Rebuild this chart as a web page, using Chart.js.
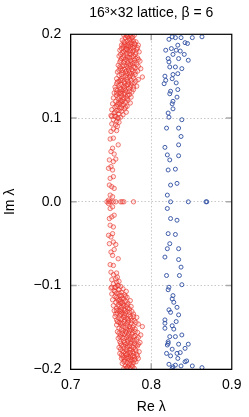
<!DOCTYPE html>
<html>
<head>
<meta charset="utf-8">
<script src="https://cdn.jsdelivr.net/npm/chart.js@4/dist/chart.umd.min.js"></script>
<style>
html,body{margin:0;padding:0;background:#fff;}
canvas{display:block;}
</style>
</head>
<body>
<canvas id="c" width="249" height="417"></canvas>
<script>
const titleText = "16\u00B3\u00D732 lattice, \u03B2 = 6";
const xTitle = "Re \u03BB";
const yTitle = "Im \u03BB";
const xTicks = [0.7, 0.8, 0.9];
const yTicks = [-0.2, -0.1, 0, 0.1, 0.2];

// red eigenvalues [Re, Im], upper half
const redUpper = [
[.766,.199],[.770,.198],[.774,.199],[.777,.197],[.779,.199],[.768,.196],[.772,.195],[.775,.194],[.764,.193],
[.770,.192],[.778,.192],[.781,.191],[.767,.190],[.773,.189],[.776,.188],[.784,.187],[.763,.187],[.769,.186],
[.772,.185],[.779,.185],[.765,.184],[.775,.183],[.782,.182],[.761,.181],[.768,.181],[.771,.180],[.777,.179],
[.785,.179],[.764,.178],[.773,.177],[.780,.176],[.766,.175],[.760,.174],[.770,.174],[.776,.173],[.783,.172],
[.763,.171],[.768,.170],[.774,.169],[.779,.169],[.786,.168],[.761,.167],[.766,.166],[.771,.166],[.777,.165],
[.782,.164],[.759,.163],[.764,.162],[.769,.162],[.774,.161],[.780,.160],[.787,.159],[.762,.159],[.767,.158],
[.772,.157],[.777,.156],[.783,.156],[.758,.155],[.765,.154],[.770,.153],[.775,.153],[.780,.152],[.760,.151],
[.768,.150],[.773,.149],[.789,.149],[.778,.148],[.757,.147],[.763,.147],[.770,.146],[.784,.146],[.775,.145],
[.760,.144],[.766,.143],[.772,.142],[.779,.142],[.757,.141],[.763,.140],[.769,.139],[.775,.139],[.782,.138],
[.755,.137],[.761,.136],[.767,.136],[.772,.135],[.778,.134],[.758,.133],[.764,.132],[.770,.131],[.776,.131],
[.754,.130],[.760,.129],[.766,.128],[.773,.128],[.757,.127],[.763,.126],[.769,.125],[.775,.125],[.753,.124],
[.759,.123],[.765,.122],[.771,.121],[.756,.120],[.762,.119],[.768,.119],[.774,.118],[.752,.117],[.758,.116],
[.764,.115],[.770,.114],[.755,.113],[.761,.112],[.767,.111],[.751,.110],[.757,.109],[.763,.108],[.769,.107],
[.754,.106],[.760,.105],[.765,.104],[.750,.103],[.756,.102],[.762,.101],[.758,.100],
[.771,.197],[.775,.190],[.767,.188],[.780,.188],[.774,.186],[.769,.183],[.778,.181],[.766,.179],[.775,.176],
[.771,.172],[.767,.168],[.781,.171],[.776,.167],[.772,.163],[.764,.157],[.778,.161],[.768,.155],[.774,.151],
[.765,.149],[.771,.144],[.762,.145],[.767,.141],[.774,.137],[.765,.134],[.761,.131],[.768,.133],[.763,.129],
[.771,.127],[.760,.125],[.766,.124],[.762,.121],[.759,.118],[.766,.116],[.757,.114],[.763,.112],[.760,.109],
[.755,.107],
[.769,.199],[.776,.196],[.773,.193],[.766,.191],[.779,.189],[.771,.187],[.765,.186],[.777,.184],[.783,.184],
[.770,.182],[.763,.183],[.774,.180],[.781,.178],[.769,.177],[.762,.176],[.778,.174],[.773,.172],[.765,.172],
[.784,.170],[.770,.169],[.762,.169],[.779,.166],[.774,.164],[.766,.163],[.761,.161],[.771,.160],[.784,.162],
[.776,.158],[.769,.156],[.760,.157],[.780,.155],[.773,.154],[.763,.152],[.777,.150],[.770,.148],[.781,.144],
[.758,.143],[.764,.145],[.776,.142],[.771,.140],[.760,.139],[.766,.138],[.778,.137],[.756,.134],[.762,.134],
[.773,.132],[.767,.130],[.757,.130],[.770,.123],[.764,.120],[.761,.117],[.768,.113],
[.751,.102],[.755,.102],[.759,.100],[.753,.098],[.757,.096],[.760,.095],[.751,.093],[.756,.092],[.758,.090],
[.753,.087],[.757,.085],[.750,.084],[.749,.075],[.753,.076],[.759,.068],[.752,.064],[.750,.060],[.754,.057],
[.748,.050],[.753,.048],[.756,.051],[.750,.042],[.747,.040],[.752,.038],[.749,.028],[.753,.030],[.748,.020],
[.751,.018],[.754,.016],[.749,.008],[.752,.006],[.747,.002]
];
// red real eigenvalues
const redReal = [[.745,0],[.748,0],[.750,0],[.753,0],[.756,0],[.762,0],[.764,0],[.766,0],[.778,0]];
// red eigenvalues, lower half
const redLower = [
[.766,-.199],[.770,-.198],[.774,-.199],[.777,-.197],[.779,-.199],[.768,-.196],[.772,-.195],[.775,-.194],[.764,-.193],
[.770,-.192],[.778,-.192],[.781,-.191],[.767,-.190],[.773,-.189],[.776,-.188],[.784,-.187],[.763,-.187],[.769,-.186],
[.772,-.185],[.779,-.185],[.765,-.184],[.775,-.183],[.782,-.182],[.761,-.181],[.768,-.181],[.771,-.180],[.777,-.179],
[.785,-.179],[.764,-.178],[.773,-.177],[.780,-.176],[.766,-.175],[.760,-.174],[.770,-.174],[.776,-.173],[.783,-.172],
[.763,-.171],[.768,-.170],[.774,-.169],[.779,-.169],[.786,-.168],[.761,-.167],[.766,-.166],[.771,-.166],[.777,-.165],
[.782,-.164],[.759,-.163],[.764,-.162],[.769,-.162],[.774,-.161],[.780,-.160],[.787,-.159],[.762,-.159],[.767,-.158],
[.772,-.157],[.777,-.156],[.783,-.156],[.758,-.155],[.765,-.154],[.770,-.153],[.775,-.153],[.780,-.152],[.760,-.151],
[.768,-.150],[.773,-.149],[.789,-.149],[.778,-.148],[.757,-.147],[.763,-.147],[.770,-.146],[.784,-.146],[.775,-.145],
[.760,-.144],[.766,-.143],[.772,-.142],[.779,-.142],[.757,-.141],[.763,-.140],[.769,-.139],[.775,-.139],[.782,-.138],
[.755,-.137],[.761,-.136],[.767,-.136],[.772,-.135],[.778,-.134],[.758,-.133],[.764,-.132],[.770,-.131],[.776,-.131],
[.754,-.130],[.760,-.129],[.766,-.128],[.773,-.128],[.757,-.127],[.763,-.126],[.769,-.125],[.775,-.125],[.753,-.124],
[.759,-.123],[.765,-.122],[.771,-.121],[.756,-.120],[.762,-.119],[.768,-.119],[.774,-.118],[.752,-.117],[.758,-.116],
[.764,-.115],[.770,-.114],[.755,-.113],[.761,-.112],[.767,-.111],[.751,-.110],[.757,-.109],[.763,-.108],[.769,-.107],
[.754,-.106],[.760,-.105],[.765,-.104],[.750,-.103],[.756,-.102],[.762,-.101],[.758,-.100],
[.771,-.197],[.775,-.190],[.767,-.188],[.780,-.188],[.774,-.186],[.769,-.183],[.778,-.181],[.766,-.179],[.775,-.176],
[.771,-.172],[.767,-.168],[.781,-.171],[.776,-.167],[.772,-.163],[.764,-.157],[.778,-.161],[.768,-.155],[.774,-.151],
[.765,-.149],[.771,-.144],[.762,-.145],[.767,-.141],[.774,-.137],[.765,-.134],[.761,-.131],[.768,-.133],[.763,-.129],
[.771,-.127],[.760,-.125],[.766,-.124],[.762,-.121],[.759,-.118],[.766,-.116],[.757,-.114],[.763,-.112],[.760,-.109],
[.755,-.107],
[.769,-.199],[.776,-.196],[.773,-.193],[.766,-.191],[.779,-.189],[.771,-.187],[.765,-.186],[.777,-.184],[.783,-.184],
[.770,-.182],[.763,-.183],[.774,-.180],[.781,-.178],[.769,-.177],[.762,-.176],[.778,-.174],[.773,-.172],[.765,-.172],
[.784,-.170],[.770,-.169],[.762,-.169],[.779,-.166],[.774,-.164],[.766,-.163],[.761,-.161],[.771,-.160],[.784,-.162],
[.776,-.158],[.769,-.156],[.760,-.157],[.780,-.155],[.773,-.154],[.763,-.152],[.777,-.150],[.770,-.148],[.781,-.144],
[.758,-.143],[.764,-.145],[.776,-.142],[.771,-.140],[.760,-.139],[.766,-.138],[.778,-.137],[.756,-.134],[.762,-.134],
[.773,-.132],[.767,-.130],[.757,-.130],[.770,-.123],[.764,-.120],[.761,-.117],[.768,-.113],
[.751,-.102],[.755,-.102],[.759,-.100],[.753,-.098],[.757,-.096],[.760,-.095],[.751,-.093],[.756,-.092],[.758,-.090],
[.753,-.087],[.757,-.085],[.750,-.084],[.749,-.075],[.753,-.076],[.759,-.068],[.752,-.064],[.750,-.060],[.754,-.057],
[.748,-.050],[.753,-.048],[.756,-.051],[.750,-.042],[.747,-.040],[.752,-.038],[.749,-.028],[.753,-.030],[.748,-.020],
[.751,-.018],[.754,-.016],[.749,-.008],[.752,-.006],[.747,-.002]
];

// blue eigenvalues [Re, Im]
const blueUpper = [
[.826,.197],[.830,.196],[.837,.196],[.851,.196],[.863,.197],[.822,.194],[.833,.187],[.842,.190],[.845,.189],
[.825,.183],[.818,.181],[.831,.181],[.836,.180],[.827,.176],[.841,.176],[.821,.171],[.834,.171],[.846,.169],
[.822,.167],[.823,.161],[.830,.161],[.838,.159],[.817,.150],[.827,.152],[.833,.153],[.826,.147],[.818,.145],
[.816,.141],[.831,.142],[.833,.134],[.824,.132],[.823,.129],[.832,.125],[.827,.120],[.826,.117],[.827,.111],
[.821,.106],[.822,.101],[.838,.098],[.819,.088],[.834,.088],[.837,.078],[.817,.065],[.834,.068],[.820,.056],
[.834,.055],[.823,.050],[.821,.038],[.830,.039],[.824,.020],[.832,.022],[.820,.008]
];
const blueReal = [[.824,0],[.846,0],[.868,0],[.869,0]];
const blueLower = [
[.820,-.008],[.824,-.020],[.832,-.022],[.821,-.038],[.830,-.039],[.823,-.050],[.820,-.056],[.834,-.056],
[.817,-.066],[.834,-.069],[.837,-.078],[.819,-.088],[.835,-.088],[.838,-.099],[.822,-.102],[.821,-.105],
[.827,-.112],[.826,-.116],[.828,-.120],[.832,-.126],[.822,-.129],[.824,-.132],[.834,-.135],[.817,-.141],
[.831,-.143],[.817,-.145],[.826,-.148],[.817,-.151],[.828,-.152],[.823,-.161],[.830,-.161],[.838,-.159],
[.821,-.167],[.821,-.169],[.834,-.170],[.846,-.170],[.820,-.171],[.826,-.176],[.842,-.175],[.836,-.180],
[.832,-.181],[.819,-.181],[.824,-.184],[.833,-.187],[.844,-.190],[.842,-.191],[.822,-.194],[.830,-.195],
[.827,-.197],[.837,-.196],[.851,-.196],[.863,-.198],[.826,-.199]
];

const toXY = arr => arr.map(p => ({x: p[0], y: p[1]}));
const redData = toXY(redUpper.concat(redReal, redLower));
const blueData = toXY(blueUpper.concat(blueReal, blueLower));

const FONT = "'Liberation Sans', Arial, Helvetica, sans-serif";
const fmt = v => {
  if (Math.abs(v) < 1e-9) return "0.0";
  const s = v.toFixed(1);
  return s.replace("-", "\u2212");
};

const framePlugin = {
  id: 'frame',
  afterDatasetsDraw(chart) {
    const {ctx, chartArea: a, scales} = chart;
    ctx.save();
    ctx.strokeStyle = '#aaaaaa';
    ctx.lineWidth = 1.5;
    const tl = 6;
    yTicks.forEach(v => {
      if (v === yTicks[0] || v === yTicks[yTicks.length - 1]) return;
      const py = scales.y.getPixelForValue(v);
      ctx.beginPath();
      ctx.moveTo(a.left, py); ctx.lineTo(a.left + tl, py);
      ctx.moveTo(a.right, py); ctx.lineTo(a.right - tl, py);
      ctx.stroke();
    });
    xTicks.forEach(v => {
      if (v === xTicks[0] || v === xTicks[xTicks.length - 1]) return;
      const px = scales.x.getPixelForValue(v);
      ctx.beginPath();
      ctx.moveTo(px, a.bottom); ctx.lineTo(px, a.bottom - tl);
      ctx.moveTo(px, a.top); ctx.lineTo(px, a.top + tl);
      ctx.stroke();
    });
    ctx.strokeStyle = '#000';
    ctx.lineWidth = 1.2;
    ctx.strokeRect(a.left, a.top, a.right - a.left, a.bottom - a.top);
    ctx.restore();
  }
};

const gridColor = ctx => {
  const v = ctx.tick ? ctx.tick.value : null;
  return (v === null || Math.abs(v - ctx.scale.min) < 1e-9 || Math.abs(v - ctx.scale.max) < 1e-9) ? 'rgba(0,0,0,0)' : '#c8c8c8';
};

new Chart(document.getElementById('c'), {
  type: 'scatter',
  data: {
    datasets: [
      {
        label: 'blue',
        data: blueData,
        pointRadius: 2,
        pointBorderWidth: 1,
        borderColor: 'rgba(55,85,165,0.95)',
        backgroundColor: 'rgba(255,255,255,0)',
        pointHoverRadius: 2
      },
      {
        label: 'red',
        data: redData,
        pointRadius: 2.2,
        pointBorderWidth: 1,
        borderColor: 'rgba(232,45,35,0.6)',
        backgroundColor: 'rgba(245,130,120,0.18)',
        pointHoverRadius: 2.2
      }
    ]
  },
  options: {
    responsive: false,
    animation: false,
    devicePixelRatio: 1,
    layout: { padding: { left: 0, right: 11.3, top: 0, bottom: 0 } },
    plugins: {
      legend: { display: false },
      tooltip: { enabled: false },
      title: {
        display: true,
        text: titleText,
        fullSize: false,
        color: '#000',
        font: { family: FONT, size: 14, weight: 'normal', lineHeight: 1.2 },
        padding: { top: 5, bottom: 12.5 }
      }
    },
    scales: {
      x: {
        type: 'linear',
        min: 0.7, max: 0.9,
        afterBuildTicks: s => { s.ticks = xTicks.map(v => ({value: v})); },
        afterFit: s => { s.height = 47.7; },
        ticks: { color: '#000', font: { family: FONT, size: 14 }, padding: 7.5, maxRotation: 0, callback: v => fmt(v) },
        grid: { color: gridColor, lineWidth: 1, drawTicks: false },
        border: { display: true, color: '#000', width: 1, dash: [1.5, 2] },
        title: { display: true, text: xTitle, color: '#000', font: { family: FONT, size: 14, lineHeight: 1.2 }, padding: { top: 0, bottom: 1.6 } }
      },
      y: {
        type: 'linear',
        min: -0.2, max: 0.2,
        afterBuildTicks: s => { s.ticks = yTicks.map(v => ({value: v})); },
        afterFit: s => { s.width = 70.7; },
        ticks: { color: '#000', font: { family: FONT, size: 14 }, padding: 9.5, callback: v => fmt(v) },
        grid: { color: gridColor, lineWidth: 1, drawTicks: false },
        border: { display: true, color: '#000', width: 1, dash: [1.5, 2] },
        title: { display: true, text: yTitle, color: '#000', font: { family: FONT, size: 14, lineHeight: 1.2 }, padding: { top: 1.6, bottom: 0 } }
      }
    }
  },
  plugins: [framePlugin]
});
</script>
</body>
</html>
